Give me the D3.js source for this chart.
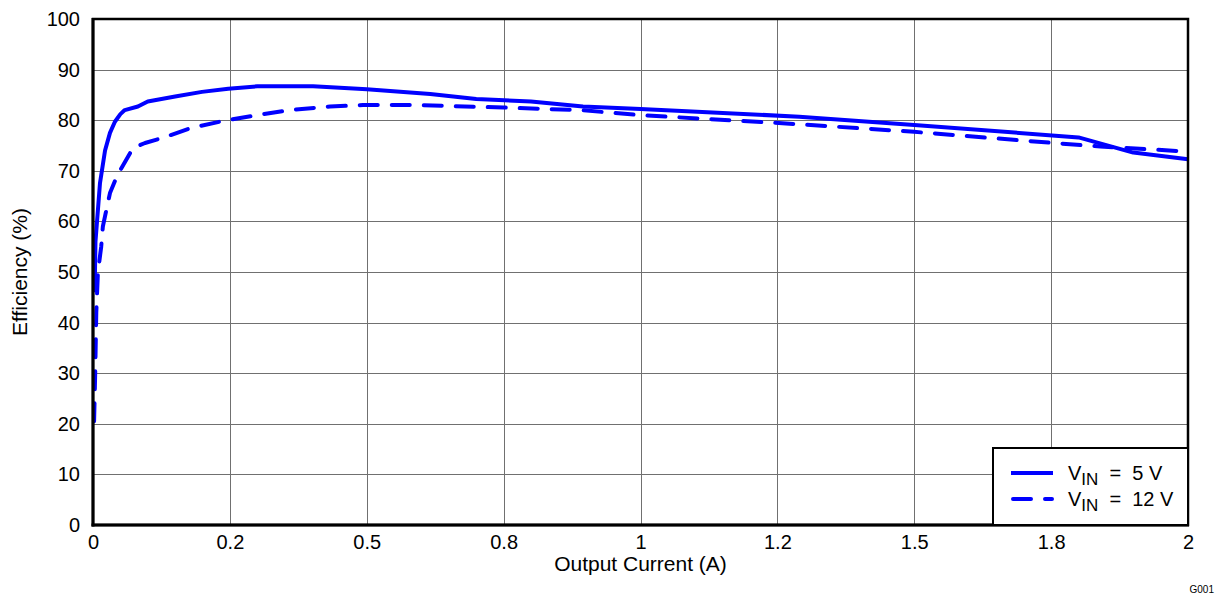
<!DOCTYPE html>
<html>
<head>
<meta charset="utf-8">
<script src="https://cdn.jsdelivr.net/npm/d3@7"></script>
<style>
  html, body { margin: 0; padding: 0; background: #fff; }
  svg { display: block; font-family: "Liberation Sans", Arial, sans-serif; }
  .pre { white-space: pre; }
</style>
</head>
<body>
<svg id="chart" width="1220" height="595"></svg>
<script>
// Output current (A) and efficiency (%) for each input voltage
const current5V = [0.003, 0.0045, 0.0128, 0.022, 0.031, 0.040, 0.050, 0.058, 0.082, 0.100, 0.150, 0.199, 0.247, 0.300, 0.402, 0.500, 0.616, 0.700, 0.800, 0.895, 1.000, 1.290, 1.500, 1.800, 1.900, 2.000];
const efficiency5V = [46, 56, 67.6, 74, 77.5, 79.7, 81.2, 82, 82.7, 83.7, 84.7, 85.6, 86.2, 86.7, 86.7, 86.1, 85.2, 84.2, 83.7, 82.7, 82.2, 80.7, 79.05, 76.6, 73.6, 72.3];

const current12V = [0.002, 0.004, 0.006, 0.009, 0.015, 0.018, 0.031, 0.044, 0.055, 0.073, 0.095, 0.127, 0.180, 0.240, 0.300, 0.360, 0.433, 0.493, 0.585, 0.750, 0.890, 1.000, 1.290, 1.500, 1.754, 1.840, 2.000];
const efficiency12V = [20.5, 30, 42, 50, 55, 59, 65.6, 69, 71.1, 74.5, 75.5, 76.5, 78.5, 79.9, 81, 82, 82.7, 83, 83, 82.5, 82, 81, 79.2, 77.7, 75.5, 74.8, 73.8];

// Axis ticks
const xTickValues = [0, 0.25, 0.5, 0.75, 1, 1.25, 1.5, 1.75, 2];
const xTickLabels = ["0", "0.2", "0.5", "0.8", "1", "1.2", "1.5", "1.8", "2"];
const yTickValues = [0, 10, 20, 30, 40, 50, 60, 70, 80, 90, 100];

const legendLabels = [["V", "IN", "  =  5 V"], ["V", "IN", "  =  12 V"]];

const svg = d3.select("#chart");
const plot = { left: 93, top: 19, right: 1188, bottom: 525 };

const x = d3.scaleLinear().domain([0, 2]).range([plot.left, plot.right]);
const y = d3.scaleLinear().domain([0, 100]).range([plot.bottom, plot.top]);

const tickFont = 20;

// Grid lines
const grid = svg.append("g");
grid.selectAll("line.v").data(xTickValues.slice(1, -1)).enter().append("line")
  .attr("x1", d => Math.round(x(d)) + 0.5).attr("x2", d => Math.round(x(d)) + 0.5)
  .attr("y1", plot.top).attr("y2", plot.bottom)
  .attr("stroke", "#707070").attr("stroke-width", 1);
grid.selectAll("line.h").data(yTickValues.slice(1, -1)).enter().append("line")
  .attr("y1", d => Math.round(y(d)) + 0.5).attr("y2", d => Math.round(y(d)) + 0.5)
  .attr("x1", plot.left).attr("x2", plot.right)
  .attr("stroke", "#707070").attr("stroke-width", 1);

// Axes (labels only; the frame is drawn separately)
const xAxis = d3.axisBottom(x).tickValues(xTickValues)
  .tickFormat((d, i) => xTickLabels[i]).tickSize(0).tickPadding(10);
const gx = svg.append("g").attr("transform", `translate(0,${plot.bottom})`).call(xAxis);
gx.select(".domain").remove();
gx.selectAll("text").attr("font-size", tickFont).attr("font-family", "Liberation Sans, Arial, sans-serif").attr("fill", "#000");

const yAxis = d3.axisLeft(y).tickValues(yTickValues).tickSize(0).tickPadding(13);
const gy = svg.append("g").attr("transform", `translate(${plot.left},0)`).call(yAxis);
gy.select(".domain").remove();
gy.selectAll("text").attr("font-size", tickFont).attr("font-family", "Liberation Sans, Arial, sans-serif").attr("fill", "#000");

// Data lines
const line = d3.line().x(d => x(d[0])).y(d => y(d[1]));
const data5V = current5V.map((c, i) => [c, efficiency5V[i]]);
const data12V = current12V.map((c, i) => [c, efficiency12V[i]]);

svg.append("path").datum(data12V).attr("d", line)
  .attr("fill", "none").attr("stroke", "#0000ff").attr("stroke-width", 4)
  .attr("stroke-dasharray", "18,14").attr("stroke-linecap", "round").attr("stroke-linejoin", "round");
svg.append("path").datum(data5V).attr("d", line)
  .attr("fill", "none").attr("stroke", "#0000ff").attr("stroke-width", 4)
  .attr("stroke-linejoin", "round");

// Plot frame
svg.append("rect")
  .attr("x", plot.left).attr("y", plot.top)
  .attr("width", plot.right - plot.left).attr("height", plot.bottom - plot.top)
  .attr("fill", "none").attr("stroke", "#000").attr("stroke-width", 2.5);
svg.append("line").attr("x1", plot.left).attr("x2", plot.left)
  .attr("y1", plot.top - 1).attr("y2", plot.bottom + 1.5).attr("stroke", "#000").attr("stroke-width", 3);
svg.append("line").attr("x1", plot.left - 1.5).attr("x2", plot.right + 1)
  .attr("y1", plot.bottom).attr("y2", plot.bottom).attr("stroke", "#000").attr("stroke-width", 3);

// Axis titles
svg.append("text")
  .attr("x", (plot.left + plot.right) / 2).attr("y", 571)
  .attr("text-anchor", "middle").attr("font-size", 21).text("Output Current (A)");
svg.append("text")
  .attr("transform", `translate(27,${(plot.top + plot.bottom) / 2}) rotate(-90)`)
  .attr("text-anchor", "middle").attr("font-size", 21).text("Efficiency (%)");

// Legend
const legend = svg.append("g");
legend.append("rect")
  .attr("x", 993).attr("y", 448).attr("width", plot.right - 993).attr("height", plot.bottom - 448)
  .attr("fill", "#fff").attr("stroke", "#000").attr("stroke-width", 2);
const legendStyles = [null, "18,14"];
legendLabels.forEach((lab, i) => {
  const ly = 473 + i * 26;
  const l = legend.append("line")
    .attr("x1", 1011).attr("x2", 1053).attr("y1", ly).attr("y2", ly)
    .attr("stroke", "#0000ff").attr("stroke-width", 4);
  if (legendStyles[i]) l.attr("stroke-dasharray", legendStyles[i]).attr("stroke-linecap", "round").attr("x1", 1013).attr("x2", 1052);
  const t = legend.append("text").attr("class", "pre")
    .attr("x", 1068).attr("y", ly + 7).attr("font-size", 20);
  t.append("tspan").text(lab[0]);
  t.append("tspan").attr("font-size", 17).attr("dy", 5).text(lab[1]);
  t.append("tspan").attr("dy", -5).text(lab[2]);
});

// Figure id
svg.append("text").attr("x", 1214).attr("y", 593).attr("text-anchor", "end")
  .attr("font-size", 10).text("G001");
</script>
</body>
</html>
